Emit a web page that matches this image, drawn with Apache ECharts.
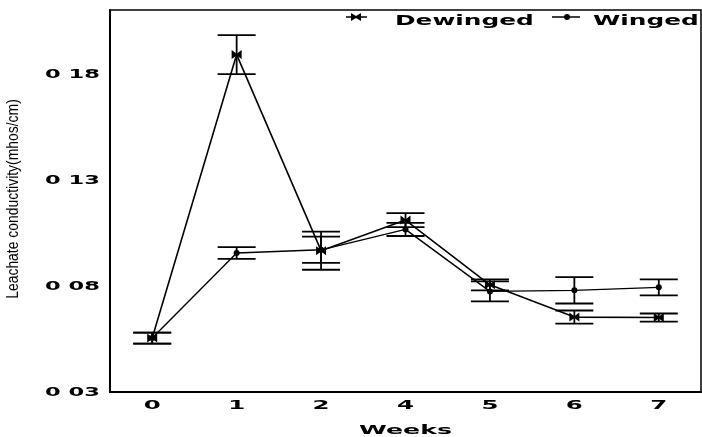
<!DOCTYPE html>
<html>
<head>
<meta charset="utf-8">
<script src="https://cdn.jsdelivr.net/npm/echarts@6/dist/echarts.min.js"></script>
<style>
  html, body { margin: 0; padding: 0; background: #fff; }
  #chart { width: 702px; height: 437px; }
</style>
</head>
<body>
<div id="chart"></div>
<script>
// Weekly leachate conductivity, means with error bars
const weeks = ['0', '1', '2', '4', '5', '6', '7'];
const dewinged = [0.0554, 0.189, 0.0966, 0.111, 0.0805, 0.0653, 0.0651];
const dewingedErr = [0.0026, 0.0092, 0.009, 0.0033, 0.0026, 0.0031, 0.0019];
const winged = [0.0554, 0.0955, 0.097, 0.1066, 0.0774, 0.0779, 0.0793];
const wingedErr = [0.0026, 0.0028, 0.0062, 0.0031, 0.0047, 0.0062, 0.0038];
const yTicks = [0.03, 0.08, 0.13, 0.18];
const yTickText = ['0 03', '0 08', '0 13', '0 18'];

const chart = echarts.init(document.getElementById('chart'), null, { renderer: 'canvas' });

const bowtie = 'path://M0,0L5,4L10,0L10,10L5,6L0,10Z';

function barData(means, errs) {
  return means.map((m, i) => [i, m - errs[i], m + errs[i]]);
}

function errorBars(params, api) {
  const x = api.value(0);
  const top = api.coord([x, api.value(2)]);
  const bot = api.coord([x, api.value(1)]);
  const hw = 19;
  const st = { stroke: '#000', lineWidth: 1.8 };
  return {
    type: 'group',
    children: [
      { type: 'line', shape: { x1: top[0], y1: top[1], x2: bot[0], y2: bot[1] }, style: st },
      { type: 'line', shape: { x1: top[0] - hw, y1: top[1], x2: top[0] + hw, y2: top[1] }, style: st },
      { type: 'line', shape: { x1: bot[0] - hw, y1: bot[1], x2: bot[0] + hw, y2: bot[1] }, style: st }
    ]
  };
}

chart.setOption({
  animation: false,
  backgroundColor: '#fff',
  grid: { left: 110, top: 10, right: 1, bottom: 45, show: true, borderColor: '#000', borderWidth: 1.5 },
  xAxis: {
    type: 'category',
    data: weeks,
    boundaryGap: true,
    axisLine: { lineStyle: { color: '#000', width: 2 } },
    axisTick: { show: false },
    axisLabel: { show: false },
    splitLine: { show: false }
  },
  yAxis: {
    type: 'value',
    min: 0.03,
    max: 0.21,
    interval: 0.01,
    axisLine: { show: true, lineStyle: { color: '#000', width: 2 } },
    axisTick: { show: false },
    axisLabel: { show: false },
    splitLine: { show: false }
  },
  series: [
    {
      name: 'Dewinged err', type: 'custom', renderItem: errorBars,
      data: barData(dewinged, dewingedErr), encode: { x: 0, y: [1, 2] }, z: 2
    },
    {
      name: 'Winged err', type: 'custom', renderItem: errorBars,
      data: barData(winged, wingedErr), encode: { x: 0, y: [1, 2] }, z: 2
    },
    {
      name: 'Dewinged', type: 'line', data: dewinged,
      symbol: bowtie, symbolSize: [10, 9],
      lineStyle: { color: '#000', width: 1.6 },
      itemStyle: { color: '#000' }, z: 3
    },
    {
      name: 'Winged', type: 'line', data: winged,
      symbol: 'circle', symbolSize: 6,
      lineStyle: { color: '#000', width: 1.4 },
      itemStyle: { color: '#000' }, z: 3
    }
  ]
});

// Heavy, wide lettering used for tick labels, axis title and legend
function wide(text, x, y, size, align, sx) {
  return {
    type: 'text', x: x, y: y, scaleX: sx, z: 10,
    style: {
      text: text,
      font: 'bold ' + size + 'px "DejaVu Sans"',
      fill: '#000',
      align: align, textAlign: align,
      verticalAlign: 'middle', textVerticalAlign: 'middle'
    }
  };
}

const g = [];
const grid = chart.getModel().getComponent('grid').coordinateSystem.getRect();

// x tick labels
weeks.forEach((w, i) => {
  const px = chart.convertToPixel({ xAxisIndex: 0 }, i);
  g.push(wide(w, px, grid.y + grid.height + 14, 13, 'center', 1.88));
});
// y tick labels
yTicks.forEach((v, i) => {
  const py = chart.convertToPixel({ yAxisIndex: 0 }, v);
  g.push(wide(yTickText[i], grid.x - 10, py + 1, 12, 'right', 1.88));
});
// x axis title
g.push(wide('Weeks', grid.x + grid.width / 2, grid.y + grid.height + 39, 13, 'center', 1.94));
// y axis title
g.push({
  type: 'text', x: 14, y: grid.y + grid.height / 2 - 2, rotation: Math.PI / 2, scaleX: 0.87, z: 10,
  style: {
    text: 'Leachate conductivity(mhos/cm)',
    font: '16px "Liberation Sans"',
    fill: '#000',
    align: 'center', textAlign: 'center',
    verticalAlign: 'middle', textVerticalAlign: 'middle'
  }
});

// legend
const legY = grid.y + 7;
const bx = 356;
g.push({ type: 'line', shape: { x1: 346, y1: legY, x2: 367, y2: legY }, style: { stroke: '#000', lineWidth: 1.5 }, z: 10 });
g.push({
  type: 'polygon', z: 10,
  shape: { points: [[bx - 5, legY - 4], [bx, legY - 1], [bx + 5, legY - 4], [bx + 5, legY + 4], [bx, legY + 1], [bx - 5, legY + 4]] },
  style: { fill: '#000' }
});
g.push(wide('Dewinged', 395, legY + 4, 14, 'left', 1.77));
g.push({ type: 'line', shape: { x1: 552, y1: legY, x2: 580, y2: legY }, style: { stroke: '#000', lineWidth: 1.5 }, z: 10 });
g.push({ type: 'circle', shape: { cx: 567, cy: legY, r: 3 }, style: { fill: '#000' }, z: 10 });
g.push(wide('Winged', 593, legY + 4, 14, 'left', 1.77));

chart.setOption({ graphic: g });
</script>
</body>
</html>
